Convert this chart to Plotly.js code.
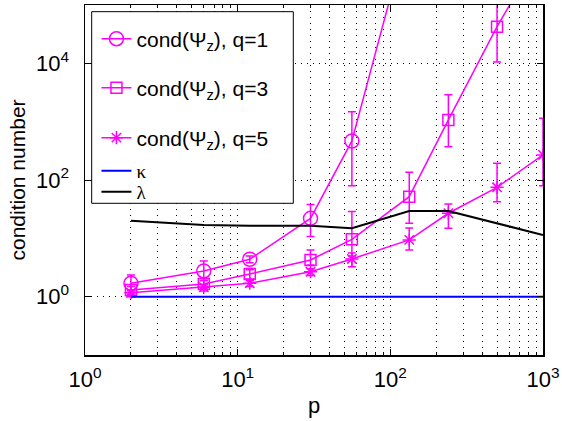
<!DOCTYPE html>
<html>
<head>
<meta charset="utf-8">
<script src="https://cdn.plot.ly/plotly-3.0.1.min.js"></script>
<style>html,body{margin:0;padding:0;background:#fff;}#chart{width:562px;height:421px;}</style>
</head>
<body>
<div id="chart"></div>
<script>
// Data
const p = [2, 6, 12, 30, 56, 133, 240, 500, 1000];

const q1 = [1.70, 2.76, 4.38, 22, 467, 2.2e6];
const q1Hi = [2.35, 4.1, 5.0, 38, 1480, 5e6];
const q1Lo = [1.25, 1.9, 3.8, 10.7, 80, 1e6];

const q3 = [1.30, 1.65, 2.45, 4.26, 9.6, 51.8, 1070, 42500, 9.5e5];
const q3Hi = [1.5, 1.9, 2.9, 6.3, 28.7, 136, 2900, 2e5, 3e6];
const q3Lo = [1.1, 1.4, 2.0, 3.5, 5.0, 18.1, 373, 10560, 3e5];

const q5 = [1.17, 1.45, 1.70, 2.68, 4.43, 9.4, 26.9, 75, 269];
const q5Hi = [1.3, 1.6, 1.9, 3.0, 5.6, 15, 38.8, 194, 1143];
const q5Lo = [1.0, 1.25, 1.5, 2.3, 3.27, 6.3, 14.9, 42.5, 80];

const kappa = [1, 1, 1, 1, 1, 1, 1, 1, 1];
const lambda = [20.1, 16.9, 16.5, 16.5, 14.9, 29.5, 29.5, 18, 11.4];

const seriesNames = ['cond(Ψ<sub>z</sub>), q=1', 'cond(Ψ<sub>z</sub>), q=3', 'cond(Ψ<sub>z</sub>), q=5', 'κ', 'λ'];
const yTickVals = [1, 100, 10000];
const yTickText = ['10<sup>0</sup>', '10<sup>2</sup>', '10<sup>4</sup>'];
const xTickVals = [1, 10, 100, 1000];
const xTickText = ['10<sup>0</sup>', '10<sup>1</sup>', '10<sup>2</sup>', '10<sup>3</sup>'];

const magenta = '#ff00ff';
function diffUp(v, hi) { return v.map((y, i) => hi[i] - y); }
function diffDn(v, lo) { return v.map((y, i) => y - lo[i]); }
function errBar(v, hi, lo) {
  return {type: 'data', symmetric: false, array: diffUp(v, hi), arrayminus: diffDn(v, lo),
          color: magenta, thickness: 1.5, width: 4};
}

const traces = [
  {x: p.slice(0, q1.length), y: q1, name: seriesNames[0], legend: 'legend', mode: 'lines+markers',
   line: {color: magenta, width: 1.5}, marker: {symbol: 'circle-open', size: 14, color: magenta, line: {width: 1.5}},
   error_y: errBar(q1, q1Hi, q1Lo)},
  {x: p, y: q3, name: seriesNames[1], legend: 'legend2', mode: 'lines+markers',
   line: {color: magenta, width: 1.5}, marker: {symbol: 'square-open', size: 11, color: magenta, line: {width: 1.5}},
   error_y: errBar(q3, q3Hi, q3Lo)},
  {x: p, y: q5, name: seriesNames[2], legend: 'legend3', mode: 'lines+markers',
   line: {color: magenta, width: 1.5}, marker: {symbol: 'asterisk-open', size: 11, color: magenta, line: {width: 1.5, color: magenta}},
   error_y: errBar(q5, q5Hi, q5Lo)},
  {x: p, y: kappa, name: seriesNames[3], legend: 'legend4', mode: 'lines', line: {color: '#0000ff', width: 2}},
  {x: p, y: lambda, name: seriesNames[4], legend: 'legend5', mode: 'lines', line: {color: '#000000', width: 2}}
];

const fam = 'Liberation Sans, Arial, Helvetica, sans-serif';
const serif = 'Liberation Serif, Times New Roman, serif';
const font = {family: fam, size: 22, color: '#000'};

function leg(yPix, family, size) {
  return {x: 0.025, y: (355 - yPix) / 350, xanchor: 'left', yanchor: 'middle',
          bgcolor: 'rgba(0,0,0,0)', borderwidth: 0, font: {family: family, size: size, color: '#000'}};
}

const gridDash = '1px,5px';
const layout = {
  width: 562, height: 421,
  margin: {l: 85, r: 19, t: 5, b: 66},
  paper_bgcolor: '#fff', plot_bgcolor: '#fff',
  font: font,
  showlegend: true,
  legend: leg(39, fam, 21), legend2: leg(88, fam, 21), legend3: leg(138, fam, 21),
  legend4: leg(171, serif, 19), legend5: leg(192, serif, 19),
  shapes: [{type: 'rect', xref: 'paper', yref: 'paper', x0: 0.0146, x1: 0.4548, y0: 0.4334, y1: 0.9809,
            fillcolor: '#fff', line: {color: '#000', width: 1}, layer: 'above'}],
  xaxis: {
    type: 'log', range: [0, 3], tickmode: 'array', tickvals: xTickVals, ticktext: xTickText,
    ticks: 'inside', ticklen: 6, tickwidth: 1, tickcolor: '#000',
    showline: true, linecolor: '#000', linewidth: 1.5, mirror: 'ticks',
    showgrid: true, gridcolor: '#000', griddash: gridDash, gridwidth: 1,
    zeroline: false,
    minor: {dtick: 'D1', ticks: 'inside', ticklen: 3, tickcolor: '#000', showgrid: true,
            gridcolor: '#000', griddash: gridDash, gridwidth: 1},
    title: {text: 'p', font: {family: fam, size: 22}, standoff: 6},
    tickfont: {family: fam, size: 22}, ticklabelstandoff: 4
  },
  yaxis: {
    type: 'log', range: [-1, 5], tickmode: 'array', tickvals: yTickVals, ticktext: yTickText,
    ticks: 'inside', ticklen: 6, tickwidth: 1, tickcolor: '#000',
    showline: true, linecolor: '#000', linewidth: 1.5, mirror: 'ticks',
    showgrid: true, gridcolor: '#000', griddash: gridDash, gridwidth: 1,
    zeroline: false,
    title: {text: 'condition number', font: {family: fam, size: 21}, standoff: 4},
    tickfont: {family: fam, size: 22}, ticklabelstandoff: 10
  }
};

Plotly.newPlot('chart', traces, layout, {displayModeBar: false, staticPlot: true});
</script>
</body>
</html>
